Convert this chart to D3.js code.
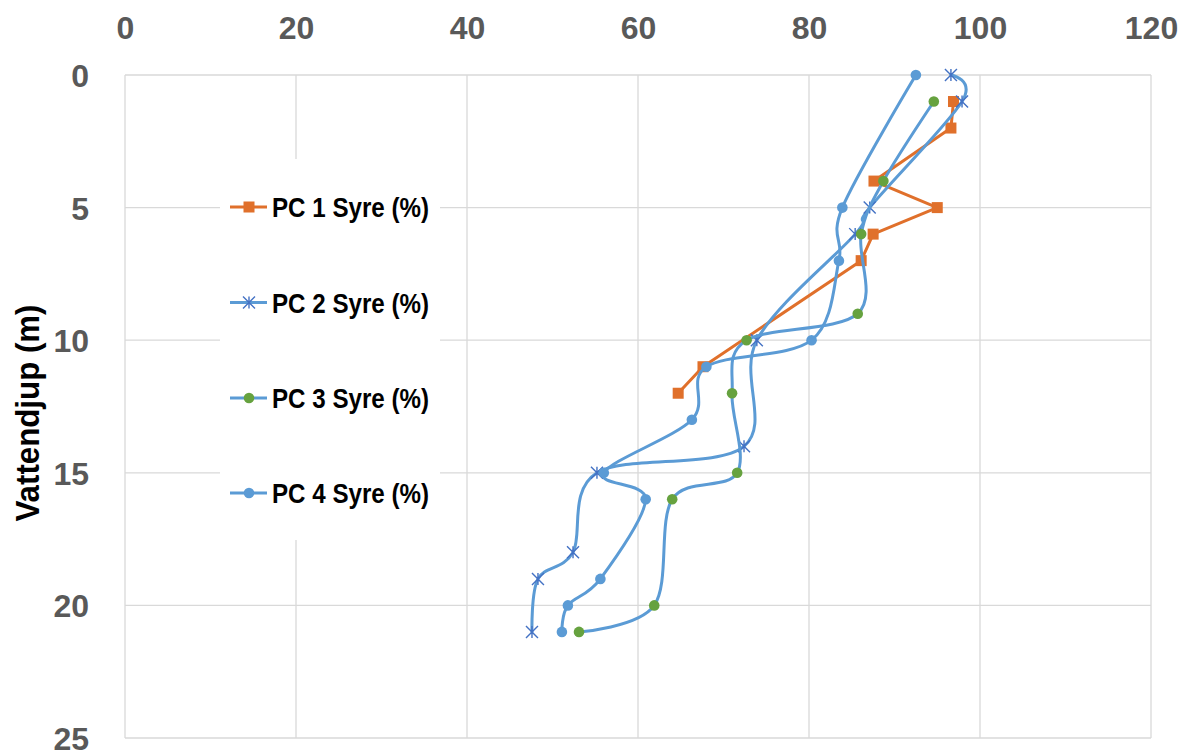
<!DOCTYPE html>
<html>
<head>
<meta charset="utf-8">
<script src="https://cdn.jsdelivr.net/npm/d3@7"></script>
<style>
  html, body { margin: 0; padding: 0; background: #fff; }
  svg { display: block; font-family: "Liberation Sans", Arial, sans-serif; }
</style>
</head>
<body>
<svg id="chart" width="1189" height="751"></svg>
<script>
// ---- Data ----
const seriesNames = ["PC 1 Syre (%)", "PC 2 Syre (%)", "PC 3 Syre (%)", "PC 4 Syre (%)"];

const pc1Depth = [1, 2, 4, 5, 6, 7, 11, 12];
const pc1Value = [96.9, 96.6, 87.6, 95.0, 87.5, 86.1, 67.6, 64.7];

const pc2Depth = [0, 1, 5, 6, 10, 14, 15, 18, 19, 21];
const pc2Value = [96.6, 97.9, 87.1, 85.4, 73.9, 72.4, 55.2, 52.4, 48.3, 47.6];

const pc3Depth = [1, 4, 6, 9, 10, 12, 15, 16, 20, 21];
const pc3Value = [94.6, 88.7, 86.1, 85.7, 72.7, 71.0, 71.6, 64.0, 61.9, 53.1];

const pc4Depth = [0, 5, 7, 10, 11, 13, 15, 16, 19, 20, 21];
const pc4Value = [92.5, 83.9, 83.5, 80.3, 68.0, 66.3, 56.0, 60.9, 55.6, 51.8, 51.1];

const xTicks = [0, 20, 40, 60, 80, 100, 120];
const yTicks = [0, 5, 10, 15, 20, 25];
const yTitle = "Vattendjup (m)";

(function () {
// ---- Layout ----
const svg = d3.select("#chart");
const pLeft = 125, pRight = 1151, pTop = 75, pBottom = 738;

const x = d3.scaleLinear().domain([0, 120]).range([pLeft, pRight]);
const y = d3.scaleLinear().domain([0, 25]).range([pTop, pBottom]);

const gridColor = "#d9d9d9";
const tickColor = "#595959";
const orange = "#E0702B";
const blueLine = "#5B9BD5";
const blueMark = "#4472C4";
const green = "#66A23F";

// gridlines
const grid = svg.append("g");
grid.selectAll("line.v").data(xTicks).enter().append("line").attr("class", "v")
  .attr("x1", d => x(d)).attr("x2", d => x(d))
  .attr("y1", pTop).attr("y2", pBottom)
  .attr("stroke", gridColor).attr("stroke-width", 1.3);
grid.selectAll("line.h").data(yTicks).enter().append("line").attr("class", "h")
  .attr("x1", pLeft).attr("x2", pRight)
  .attr("y1", d => y(d)).attr("y2", d => y(d))
  .attr("stroke", gridColor).attr("stroke-width", 1.3);

// x axis (top) labels via d3 axis
const xAxis = d3.axisTop(x).tickValues(xTicks).tickSize(0).tickPadding(36);
const gx = svg.append("g").attr("transform", `translate(0,${pTop})`).call(xAxis);
gx.select(".domain").remove();
gx.selectAll("text")
  .attr("font-family", "Liberation Sans, Arial, sans-serif")
  .attr("font-size", 32).attr("font-weight", "bold").attr("fill", tickColor);

// y axis labels
const yAxis = d3.axisLeft(y).tickValues(yTicks).tickSize(0).tickPadding(36);
const gy = svg.append("g").attr("transform", `translate(${pLeft},0)`).call(yAxis);
gy.select(".domain").remove();
gy.selectAll("text")
  .attr("font-family", "Liberation Sans, Arial, sans-serif")
  .attr("font-size", 32).attr("font-weight", "bold").attr("fill", tickColor)
  .attr("dy", "0.36em");

// y title
svg.append("text")
  .attr("transform", `translate(39,413) rotate(-90)`)
  .attr("text-anchor", "middle")
  .attr("font-size", 33).attr("font-weight", "bold").attr("fill", "#000")
  .attr("textLength", 217).attr("lengthAdjust", "spacingAndGlyphs")
  .text(yTitle);

// series
const series = [
  { name: seriesNames[0], depth: pc1Depth, value: pc1Value, line: orange, marker: "square", mcolor: orange, curve: d3.curveLinear },
  { name: seriesNames[1], depth: pc2Depth, value: pc2Value, line: blueLine, marker: "star", mcolor: blueMark, curve: d3.curveCardinal.tension(0) },
  { name: seriesNames[2], depth: pc3Depth, value: pc3Value, line: blueLine, marker: "circle", mcolor: green, curve: d3.curveCardinal.tension(0) },
  { name: seriesNames[3], depth: pc4Depth, value: pc4Value, line: blueLine, marker: "circle", mcolor: blueLine, curve: d3.curveCardinal.tension(0) }
];

function drawMarker(g, type, color, cx, cy) {
  if (type === "square") {
    g.append("rect").attr("x", cx - 5.5).attr("y", cy - 5.5)
      .attr("width", 11).attr("height", 11).attr("fill", color);
  } else if (type === "circle") {
    g.append("circle").attr("cx", cx).attr("cy", cy).attr("r", 5.3).attr("fill", color);
  } else if (type === "star") {
    const s = 6;
    const p = `M${cx - s},${cy - s}L${cx + s},${cy + s}M${cx - s},${cy + s}L${cx + s},${cy - s}M${cx},${cy - s}L${cx},${cy + s}`;
    g.append("path").attr("d", p).attr("stroke", color).attr("stroke-width", 1.4).attr("fill", "none");
  }
}

series.forEach(s => {
  const pts = s.depth.map((d, i) => [s.value[i], d]);
  const line = d3.line().x(d => x(d[0])).y(d => y(d[1])).curve(s.curve);
  const g = svg.append("g");
  g.append("path").attr("d", line(pts)).attr("fill", "none")
    .attr("stroke", s.line).attr("stroke-width", 3).attr("stroke-linejoin", "round").attr("stroke-linecap", "round");
  pts.forEach(p => drawMarker(g, s.marker, s.mcolor, x(p[0]), y(p[1])));
});

// legend
const lg = svg.append("g");
lg.append("rect").attr("x", 220).attr("y", 159).attr("width", 220).attr("height", 381).attr("fill", "#fff");
const legendY = [207, 302.5, 398, 493];
series.forEach((s, i) => {
  const ly = legendY[i];
  lg.append("line").attr("x1", 230).attr("x2", 267).attr("y1", ly).attr("y2", ly)
    .attr("stroke", s.line).attr("stroke-width", 3);
  drawMarker(lg, s.marker, s.mcolor, 249, ly);
  lg.append("text").attr("x", 272).attr("y", ly + 10)
    .attr("font-size", 28).attr("font-weight", "bold").attr("fill", "#000")
    .attr("textLength", 157).attr("lengthAdjust", "spacingAndGlyphs")
    .text(s.name);
});
})();
</script>
</body>
</html>
